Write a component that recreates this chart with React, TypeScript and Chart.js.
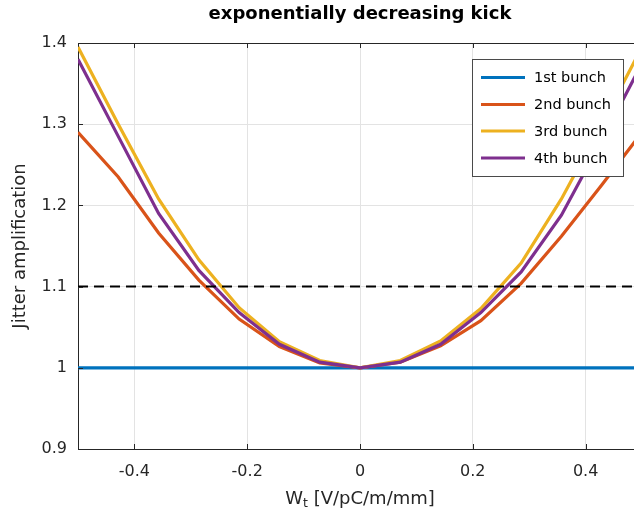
import { useEffect, useRef } from "react";
import { Chart, registerables } from "chart.js";

Chart.register(...registerables);

// ---- data ----
const xValues = [-0.5, -0.4286, -0.3571, -0.2857, -0.2143, -0.1429, -0.0714, 0, 0.0714, 0.1429, 0.2143, 0.2857, 0.3571, 0.4286, 0.5];
const bunch1 = [1, 1, 1, 1, 1, 1, 1, 1, 1, 1, 1, 1, 1, 1, 1];
const bunch2 = [1.29, 1.235, 1.166, 1.108, 1.06, 1.026, 1.006, 1.0, 1.007, 1.027, 1.058, 1.104, 1.162, 1.225, 1.29];
const bunch3 = [1.395, 1.3, 1.208, 1.133, 1.074, 1.032, 1.009, 1.0, 1.009, 1.033, 1.073, 1.129, 1.208, 1.3, 1.395];
const bunch4 = [1.38, 1.285, 1.19, 1.12, 1.068, 1.029, 1.007, 1.0, 1.007, 1.029, 1.068, 1.118, 1.188, 1.28, 1.375];
const seriesLabels = ["1st bunch", "2nd bunch", "3rd bunch", "4th bunch"];
const seriesColors = ["#0072BD", "#D95319", "#EDB120", "#7E2F8E"];
const thresholdValue = 1.1;
const xTicks = [-0.4, -0.2, 0, 0.2, 0.4];
const yTicks = [0.9, 1, 1.1, 1.2, 1.3, 1.4];
const titleText = "exponentially decreasing kick";
const yTitleText = "Jitter amplification";
const xTitleMain = "W";
const xTitleSub = "t";
const xTitleRest = " [V/pC/m/mm]";

const FONT = '"DejaVu Sans", sans-serif';
const AXIS = "#262626";
const GRID = "#e3e3e3";

const fmt = (v: number) => String(Number(v.toFixed(2)));

const decor = {
  id: "decor",
  afterDraw(chart: any) {
    const { ctx, chartArea: a, scales } = chart;
    ctx.save();
    // top border
    ctx.strokeStyle = AXIS;
    ctx.lineWidth = 1;
    ctx.beginPath();
    ctx.moveTo(a.left, a.top + 0.5);
    ctx.lineTo(a.right, a.top + 0.5);
    ctx.stroke();
    // inward ticks
    ctx.beginPath();
    for (const v of xTicks) {
      const px = Math.round(scales.x.getPixelForValue(v)) + 0.5;
      ctx.moveTo(px, a.bottom);
      ctx.lineTo(px, a.bottom - 5);
      ctx.moveTo(px, a.top);
      ctx.lineTo(px, a.top + 5);
    }
    for (const v of yTicks) {
      const py = Math.round(scales.y.getPixelForValue(v)) + 0.5;
      ctx.moveTo(a.left, py);
      ctx.lineTo(a.left + 5, py);
      ctx.moveTo(a.right, py);
      ctx.lineTo(a.right - 5, py);
    }
    ctx.stroke();

    // title
    const cx = (a.left + a.right) / 2;
    ctx.fillStyle = "#000";
    ctx.font = `bold 18px ${FONT}`;
    ctx.textAlign = "center";
    ctx.textBaseline = "middle";
    ctx.fillText(titleText, cx, 14);

    // y title
    ctx.save();
    ctx.translate(20, (a.top + a.bottom) / 2);
    ctx.rotate(-Math.PI / 2);
    ctx.fillStyle = AXIS;
    ctx.font = `18px ${FONT}`;
    ctx.fillText(yTitleText, 0, 0);
    ctx.restore();

    // x title with subscript
    ctx.fillStyle = AXIS;
    ctx.textAlign = "left";
    ctx.textBaseline = "alphabetic";
    const mainFont = `18px ${FONT}`;
    const subFont = `12.5px ${FONT}`;
    ctx.font = mainFont;
    const w1 = ctx.measureText(xTitleMain).width;
    const w3 = ctx.measureText(xTitleRest).width;
    ctx.font = subFont;
    const w2 = ctx.measureText(xTitleSub).width;
    const total = w1 + w2 + w3;
    let x0 = cx - total / 2;
    const base = 504;
    ctx.font = mainFont;
    ctx.fillText(xTitleMain, x0, base);
    x0 += w1;
    ctx.font = subFont;
    ctx.fillText(xTitleSub, x0, base + 3);
    x0 += w2;
    ctx.font = mainFont;
    ctx.fillText(xTitleRest, x0, base);

    // legend
    const lx = 472.5, ly = 59.5, lw = 151, lh = 117;
    ctx.fillStyle = "#fff";
    ctx.fillRect(lx, ly, lw, lh);
    ctx.strokeStyle = "#4a4a4a";
    ctx.lineWidth = 1;
    ctx.strokeRect(lx, ly, lw, lh);
    const rows = [77.5, 104.5, 131, 158];
    ctx.font = `14.5px ${FONT}`;
    ctx.textBaseline = "middle";
    ctx.textAlign = "left";
    seriesLabels.forEach((lab, i) => {
      const y = rows[i];
      ctx.strokeStyle = seriesColors[i];
      ctx.lineWidth = 3;
      ctx.beginPath();
      ctx.moveTo(481, y);
      ctx.lineTo(525, y);
      ctx.stroke();
      ctx.fillStyle = "#000";
      ctx.fillText(lab, 534, y + 1);
    });
    ctx.restore();
  },
};

export default function App() {
  const ref = useRef<HTMLCanvasElement | null>(null);
  useEffect(() => {
    document.body.style.margin = "0";
    if (!ref.current) return;
    const series = [bunch1, bunch2, bunch3, bunch4];
    const datasets: any[] = series.map((vals, i) => ({
      label: seriesLabels[i],
      data: xValues.map((x, j) => ({ x, y: vals[j] })),
      borderColor: seriesColors[i],
      backgroundColor: seriesColors[i],
      borderWidth: 3.2,
      pointRadius: 0,
      tension: 0,
      order: 4 - i,
    }));
    datasets.push({
      label: "threshold",
      data: [
        { x: xValues[0], y: thresholdValue },
        { x: xValues[xValues.length - 1], y: thresholdValue },
      ],
      borderColor: "#000",
      borderWidth: 2,
      borderDash: [10, 6],
      pointRadius: 0,
      order: 0,
    });
    const chart = new Chart(ref.current, {
      type: "line",
      data: { datasets },
      plugins: [decor],
      options: {
        animation: false,
        responsive: false,
        devicePixelRatio: 1,
        layout: { padding: { top: 43, right: 6, left: 0, bottom: 0 } },
        plugins: { legend: { display: false }, title: { display: false }, tooltip: { enabled: false } },
        scales: {
          x: {
            type: "linear",
            min: -0.5,
            max: 0.5,
            afterBuildTicks: (s: any) => {
              s.ticks = xTicks.map((v) => ({ value: v }));
            },
            afterFit: (s: any) => {
              s.height = 68;
            },
            ticks: {
              color: AXIS,
              font: { family: FONT, size: 16 },
              padding: 13,
              maxRotation: 0,
              callback: (v: any) => fmt(Number(v)),
            },
            grid: { color: GRID, drawTicks: false },
            border: { display: true, color: AXIS, width: 1 },
          },
          y: {
            type: "linear",
            min: 0.9,
            max: 1.4,
            afterBuildTicks: (s: any) => {
              s.ticks = yTicks.map((v) => ({ value: v }));
            },
            afterFit: (s: any) => {
              s.width = 78;
            },
            ticks: {
              color: AXIS,
              font: { family: FONT, size: 16 },
              padding: 11,
              callback: (v: any) => fmt(Number(v)),
            },
            grid: { color: GRID, drawTicks: false },
            border: { display: true, color: AXIS, width: 1 },
          },
        },
      },
    });
    return () => chart.destroy();
  }, []);
  return (
    <div style={{ width: 634, height: 517, overflow: "hidden", position: "relative" }}>
      <canvas ref={ref} width={648} height={517} style={{ width: 648, height: 517, display: "block" }} />
    </div>
  );
}
